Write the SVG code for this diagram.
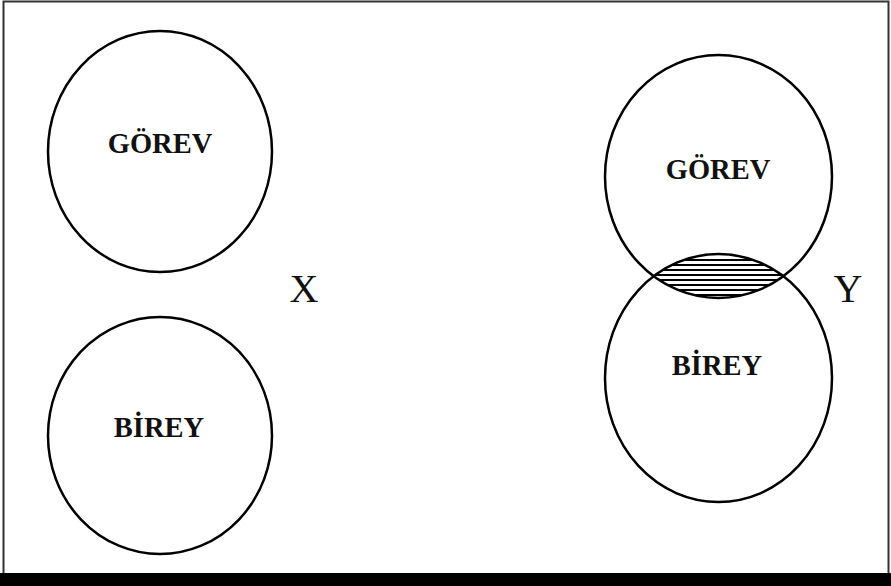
<svg xmlns="http://www.w3.org/2000/svg" width="891" height="586" viewBox="0 0 891 586">
<style>
.c{fill:none;stroke:#000;stroke-width:2.5}
.lbl{font-family:"Liberation Serif","Times New Roman",serif;font-weight:bold;font-size:28.5px;fill:#111;text-anchor:middle}
.big{font-family:"Liberation Serif","Times New Roman",serif;font-size:40px;fill:#111;text-anchor:middle}
.h{stroke:#000;stroke-width:2}
</style>
<defs>
<clipPath id="lens">
<ellipse cx="718.5" cy="176.5" rx="113.5" ry="121.5"/>
</clipPath>
<clipPath id="lens2">
<ellipse cx="718.5" cy="378" rx="113.5" ry="124"/>
</clipPath>
</defs>
<rect x="0" y="0" width="891" height="586" fill="#fff"/>
<rect x="3.5" y="1.5" width="885" height="575" fill="none" stroke="#333" stroke-width="2"/>
<rect x="0" y="573" width="891" height="13" fill="#000"/>
<g id="x-gorev">
<ellipse class="c" cx="160" cy="151.5" rx="112" ry="120.5"/>
<text class="lbl" x="160" y="153">GÖREV</text>
</g>
<g id="x-birey">
<ellipse class="c" cx="160" cy="435.5" rx="112" ry="118.5"/>
<text class="lbl" x="159" y="437">BİREY</text>
</g>
<text class="big" x="304" y="302">X</text>
<g id="overlap" clip-path="url(#lens)">
<g clip-path="url(#lens2)">
<line class="h" x1="640" y1="260" x2="800" y2="260"/>
<line class="h" x1="640" y1="265" x2="800" y2="265"/>
<line class="h" x1="640" y1="270" x2="800" y2="270"/>
<line class="h" x1="640" y1="275" x2="800" y2="275"/>
<line class="h" x1="640" y1="280" x2="800" y2="280"/>
<line class="h" x1="640" y1="285" x2="800" y2="285"/>
<line class="h" x1="640" y1="290" x2="800" y2="290"/>
<line class="h" x1="640" y1="295" x2="800" y2="295"/>
</g>
</g>
<g id="y-gorev">
<ellipse class="c" cx="718.5" cy="176.5" rx="113.5" ry="121.5"/>
<text class="lbl" x="718" y="179">GÖREV</text>
</g>
<g id="y-birey">
<ellipse class="c" cx="718.5" cy="378" rx="113.5" ry="124"/>
<text class="lbl" x="717" y="375">BİREY</text>
</g>
<text class="big" x="848" y="302">Y</text>
</svg>
